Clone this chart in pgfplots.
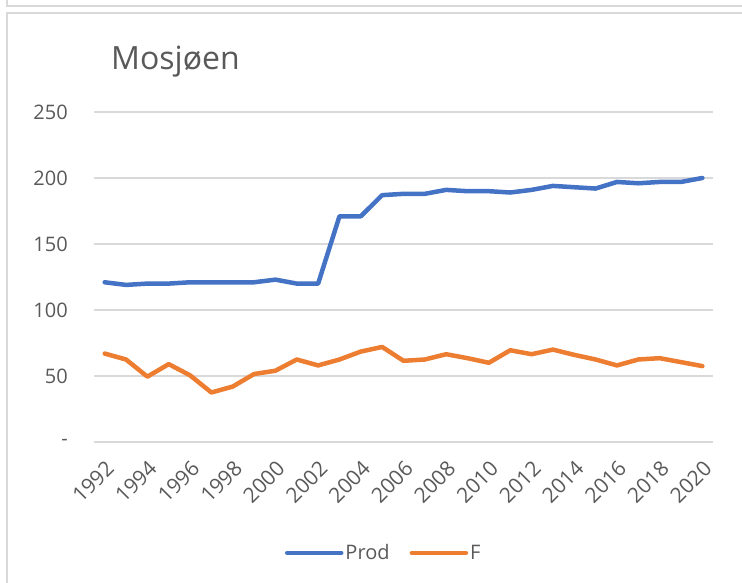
\documentclass[border=0pt]{standalone}
\usepackage{fontspec}
\setmainfont{Open Sans}
\usepackage{pgfplots}
\pgfplotsset{compat=1.18}
\definecolor{pblue}{HTML}{4472C4}
\definecolor{porange}{HTML}{ED7D31}
\definecolor{gridgray}{HTML}{D9D9D9}
\definecolor{txtgray}{HTML}{595959}
\begin{document}
\begin{tikzpicture}[x=1bp,y=1bp]
\useasboundingbox (0,0) rectangle (742,583);
% frames
\draw[gridgray, line width=2bp] (7,583) -- (7,577) -- (742,577);
\draw[gridgray, line width=2bp] (742,570) -- (7,570) -- (7,0);
\node[anchor=west, text=txtgray, font=\fontsize{32bp}{37bp}\selectfont, inner sep=0pt] at (111,521) {Mosjøen};
\begin{axis}[
  at={(94bp,141bp)}, anchor=south west,
  width=619bp, height=330bp, scale only axis,
  xmin=1991.5, xmax=2020.5, ymin=0, ymax=250,
  xtick={1992,1994,...,2020},
  xticklabels={1992,1994,1996,1998,2000,2002,2004,2006,2008,2010,2012,2014,2016,2018,2020},
  ytick={0,50,100,150,200,250},
  yticklabels={{-\hspace{3bp}},50,100,150,200,250},
  ymajorgrids,
  grid style={gridgray, line width=1.3bp},
  axis line style={draw=none},
  tick style={draw=none},
  major tick length=0pt,
  ticklabel style={text=txtgray, font=\fontsize{20bp}{24bp}\selectfont},
  yticklabel style={anchor=east, inner sep=0pt},
  yticklabel shift=26bp,
  xticklabel style={rotate=45, anchor=north east, inner sep=0pt, font=\fontsize{21bp}{25bp}\selectfont},
  xticklabel shift=17bp,
  legend columns=2,
  legend style={at={(0.468,-0.336)}, anchor=center, draw=none, fill=none,
    font=\fontsize{20bp}{24bp}\selectfont, text=txtgray,
    /tikz/every even column/.append style={column sep=18bp}},
  legend image code/.code={\draw[#1, line cap=round] (0bp,0bp) -- (54bp,0bp);},
  every axis plot/.append style={line width=4.5bp, line join=round, line cap=round},
]
\addplot[pblue] coordinates {
(1992,121) (1993,119) (1994,120) (1995,120) (1996,121) (1997,121) (1998,121)
(1999,121) (2000,123) (2001,120) (2002,120) (2003,171) (2004,171) (2005,187)
(2006,188) (2007,188) (2008,191) (2009,190) (2010,190) (2011,189) (2012,191)
(2013,194) (2014,193) (2015,192) (2016,197) (2017,196) (2018,197) (2019,197)
(2020,200)};
\addlegendentry{Prod}
\addplot[porange] coordinates {
(1992,67) (1993,62.5) (1994,49.5) (1995,59) (1996,50.5) (1997,37.5) (1998,42)
(1999,51.5) (2000,54) (2001,62.5) (2002,58) (2003,62.5) (2004,68.5) (2005,72)
(2006,61.5) (2007,62.5) (2008,66.5) (2009,63.5) (2010,60) (2011,69.5) (2012,66.5)
(2013,70) (2014,66) (2015,62.5) (2016,58) (2017,62.5) (2018,63.5) (2019,60.5)
(2020,57.5)};
\addlegendentry{F}
\end{axis}
\end{tikzpicture}
\end{document}
